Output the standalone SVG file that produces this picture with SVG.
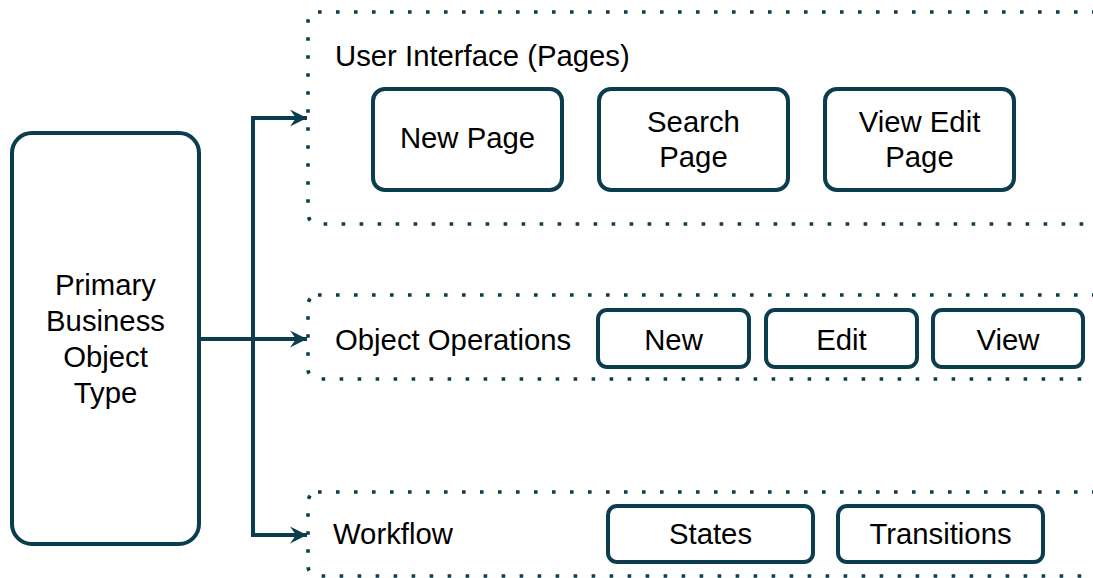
<svg xmlns="http://www.w3.org/2000/svg" width="1093" height="578" viewBox="0 0 1093 578">
  <style>
    .box { fill: #ffffff; stroke: #0b3d4f; stroke-width: 4; }
    .group { fill: none; stroke: #0b3d4f; stroke-width: 3.6; stroke-dasharray: 3.6 14.4; }
    .label { font-family: "Liberation Sans", Arial, sans-serif; font-size: 29.3px; fill: #000000; }
    .mid { text-anchor: middle; }
    .link { fill: none; stroke: #0b3d4f; stroke-width: 4; }
  </style>
  <defs>
    <marker id="arrow" markerUnits="userSpaceOnUse" markerWidth="20" markerHeight="20" viewBox="-18 -10 20 20" refX="0" refY="0" orient="auto">
      <path d="M0,0 L-17,-8.5 L-11,0 L-17,8.5 Z" fill="#0b3d4f"/>
    </marker>
  </defs>

  <rect width="1093" height="578" fill="#ffffff"/>

  <!-- source object -->
  <g id="primary-object">
    <rect class="box" x="12" y="133" width="187" height="411" rx="20"/>
    <text class="label mid" x="105.5" y="295">Primary</text>
    <text class="label mid" x="105.5" y="331">Business</text>
    <text class="label mid" x="105.5" y="367">Object</text>
    <text class="label mid" x="105.5" y="403">Type</text>
  </g>

  <!-- user interface group -->
  <g id="ui-pages">
    <rect class="group" x="308" y="12" width="795" height="212" rx="10"/>
    <text class="label" x="335" y="66">User Interface (Pages)</text>
  </g>
  <g id="new-page">
    <rect class="box" x="373" y="89" width="189" height="101" rx="12"/>
    <text class="label mid" x="467.5" y="148">New Page</text>
  </g>
  <g id="search-page">
    <rect class="box" x="599" y="89" width="189" height="101" rx="12"/>
    <text class="label mid" x="693.5" y="132">Search</text>
    <text class="label mid" x="693.5" y="167">Page</text>
  </g>
  <g id="view-edit-page">
    <rect class="box" x="825" y="89" width="189" height="101" rx="12"/>
    <text class="label mid" x="919.5" y="132">View Edit</text>
    <text class="label mid" x="919.5" y="167">Page</text>
  </g>

  <!-- object operations group -->
  <g id="object-operations">
    <rect class="group" x="308" y="295" width="795" height="84" rx="10"/>
    <text class="label" x="335" y="350">Object Operations</text>
  </g>
  <g id="op-new">
    <rect class="box" x="598" y="310" width="151" height="57" rx="9"/>
    <text class="label mid" x="673.5" y="350">New</text>
  </g>
  <g id="op-edit">
    <rect class="box" x="766" y="310" width="151" height="57" rx="9"/>
    <text class="label mid" x="841.5" y="350">Edit</text>
  </g>
  <g id="op-view">
    <rect class="box" x="933" y="310" width="150" height="57" rx="9"/>
    <text class="label mid" x="1008" y="350">View</text>
  </g>

  <!-- workflow group -->
  <g id="workflow">
    <rect class="group" x="308" y="492" width="795" height="84" rx="10"/>
    <text class="label" x="333" y="544">Workflow</text>
  </g>
  <g id="wf-states">
    <rect class="box" x="608" y="506" width="205" height="56" rx="9"/>
    <text class="label mid" x="710.5" y="544">States</text>
  </g>
  <g id="wf-transitions">
    <rect class="box" x="838" y="506" width="205" height="56" rx="9"/>
    <text class="label mid" x="940.5" y="544">Transitions</text>
  </g>

  <!-- connectors -->
  <g id="connectors">
    <path class="link" d="M199,339 L307,339" marker-end="url(#arrow)"/>
    <path class="link" d="M253,535 L253,118 L307,118" marker-end="url(#arrow)"/>
    <path class="link" d="M253,339 L253,535 L307,535" marker-end="url(#arrow)"/>
  </g>
</svg>
